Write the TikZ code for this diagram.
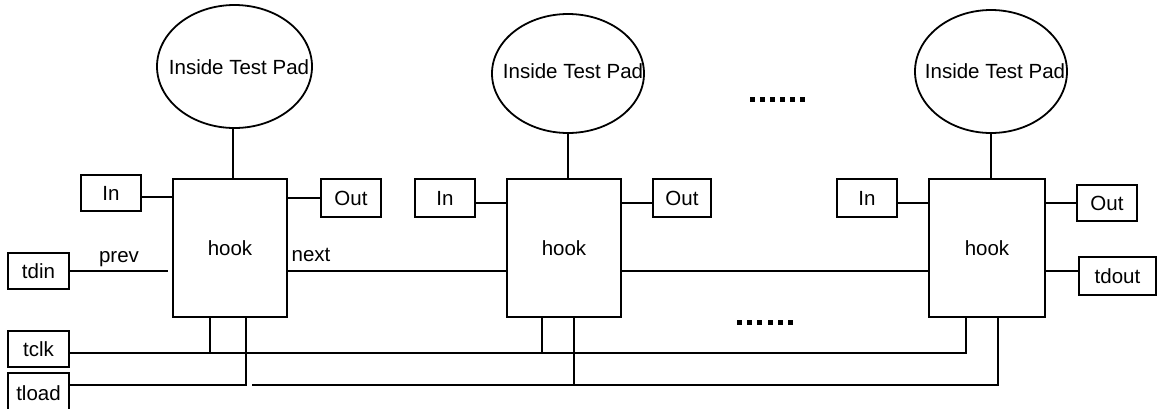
\documentclass[tikz,border=0pt]{standalone}
\usepackage{fontspec}
\setmainfont{Liberation Sans}
\usetikzlibrary{shapes.geometric}
\begin{document}
\begin{tikzpicture}[x=1pt,y=-1pt,line width=1.8pt,
  txt/.style={inner sep=0pt,font=\fontsize{20.5}{23}\selectfont},
  box/.style={txt,draw,rectangle},
  hookbox/.style={box,minimum width=114pt,minimum height=138pt},
  pad/.style={draw,ellipse,inner sep=0pt},
  dotsq/.style={fill=black,draw=none}]
\useasboundingbox (0,0) rectangle (1157,408);

% test pads
\node[pad,minimum width=155pt,minimum height=123pt] (pad1) at (234.5,66.5) {};
\node[pad,minimum width=152pt,minimum height=119pt] (pad2) at (568,73.5) {};
\node[pad,minimum width=152pt,minimum height=123pt] (pad3) at (991,71.5) {};
\node[txt] (pt1) at (239,67) {Inside Test Pad};
\node[txt] (pt2) at (573,71) {Inside Test Pad};
\node[txt] (pt3) at (995,71) {Inside Test Pad};

% hook cells
\node[hookbox] (hook1) at (230,248) {hook};
\node[hookbox] (hook2) at (564,248) {hook};
\node[hookbox,minimum width=116pt] (hook3) at (987,248) {hook};

% functional in/out boxes
\node[box,minimum width=60pt,minimum height=36pt] (in1) at (111,193) {In};
\node[box,minimum width=60pt,minimum height=38pt] (out1) at (351,198) {Out};
\node[box,minimum width=60pt,minimum height=38pt] (in2) at (445,198) {In};
\node[box,minimum width=58pt,minimum height=38pt] (out2) at (682,198) {Out};
\node[box,minimum width=60pt,minimum height=38pt] (in3) at (867,198) {In};
\node[box,minimum width=60pt,minimum height=36pt] (out3) at (1107,203) {Out};

% test ports
\node[box,minimum width=61pt,minimum height=36pt] (tdin) at (38.5,271) {tdin};
\node[box,minimum width=61pt,minimum height=36pt] (tclk) at (38.5,349) {tclk};
\node[box,minimum width=61pt,minimum height=40pt] (tload) at (38.5,393) {tload};
\node[box,minimum width=77pt,minimum height=38pt] (tdout) at (1117.5,276) {tdout};

% chain labels
\node[txt] (prev) at (119,259) {prev};
\node[txt] (next) at (311,255) {next};

% pad to hook
\path ([xshift=3pt]hook1.north) coordinate (h1t);
\draw (h1t |- pad1.south) -- (h1t);
\draw (pad2.south) -- (pad2.south |- hook2.north);
\draw (pad3.south) -- (pad3.south |- hook3.north);

% functional wiring
\path ([yshift=-4pt]in1.east) coordinate (in1p);
\draw (in1p) -- (in1p -| hook1.west);
\draw (hook1.east |- out1.west) -- (out1.west);
\path ([yshift=-5pt]in2.east) coordinate (in2p);
\draw (in2p) -- (in2p -| hook2.west);
\path ([yshift=-5pt]out2.west) coordinate (out2p);
\draw (out2p -| hook2.east) -- (out2p);
\path ([yshift=-5pt]in3.east) coordinate (in3p);
\draw (in3p) -- (in3p -| hook3.west);
\draw (hook3.east |- out3.west) -- (out3.west);

% scan chain
\draw[shorten >=4pt] (tdin.east) -- (tdin.east -| hook1.west);
\draw (hook1.east |- tdin.east) -- (hook2.west |- tdin.east);
\draw (hook2.east |- tdin.east) -- (hook3.west |- tdin.east);
\draw (hook3.east |- tdin.east) -- (tdin.east -| tdout.west);

% clock and load buses
\path ([yshift=-4pt]tclk.east) coordinate (clkbus);
\path ([yshift=8pt]tload.east) coordinate (ldbus);
\path ([xshift=38pt]hook1.south west) coordinate (h1c);
\path ([xshift=74pt]hook1.south west) coordinate (h1l);
\path ([xshift=36pt]hook2.south west) coordinate (h2c);
\path ([xshift=68pt]hook2.south west) coordinate (h2l);
\path ([xshift=38pt]hook3.south west) coordinate (h3c);
\path ([xshift=70pt]hook3.south west) coordinate (h3l);

\draw (clkbus) -- (clkbus -| h3c) -- (h3c);
\draw (h1c) -- (h1c |- clkbus);
\draw (h2c) -- (h2c |- clkbus);

\draw (ldbus) -- (ldbus -| h1l) -- (h1l);
\path (ldbus -| h1l) ++(6,0) coordinate (ldgap);
\draw (ldgap) -- (ldgap -| h3l) -- (h3l);
\draw (h2l) -- (h2l |- ldbus);

% ellipsis marks
\foreach \i in {0,...,5} {
  \fill[dotsq] (750+10*\i,96.5) rectangle ++(5,5);
  \fill[dotsq] (737+10.2*\i,320) rectangle ++(5,5);
}
\end{tikzpicture}
\end{document}
